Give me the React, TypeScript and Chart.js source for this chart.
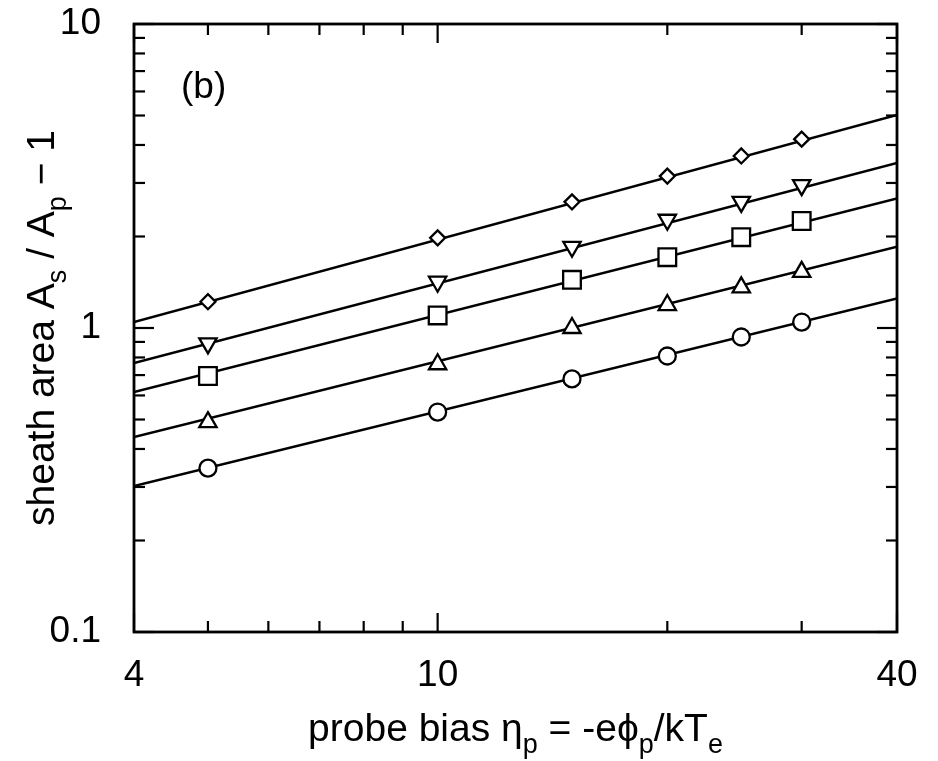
import React, { useEffect, useRef } from 'react';
import { Chart, registerables } from 'chart.js';

Chart.register(...registerables);

// ---- data ----
const xValues = [5, 10, 15, 20, 25, 30];
const diamondValues = [1.22, 1.98, 2.6, 3.16, 3.68, 4.18];
const downTriangleValues = [0.89, 1.42, 1.85, 2.27, 2.6, 2.95];
const squareValues = [0.695, 1.1, 1.44, 1.71, 1.99, 2.25];
const upTriangleValues = [0.49, 0.76, 1.0, 1.19, 1.36, 1.53];
const circleValues = [0.346, 0.529, 0.68, 0.809, 0.934, 1.046];

const fitX = [4, 40];
const diamondFit = [1.047, 5.02];
const downTriangleFit = [0.767, 3.49];
const squareFit = [0.616, 2.67];
const upTriangleFit = [0.438, 1.85];
const circleFit = [0.302, 1.25];

const xTickValues = [4, 5, 6, 7, 8, 9, 10, 20, 30, 40];
const xTickLabels = [4, 10, 40];
const yTickValues = [0.1, 0.2, 0.3, 0.4, 0.5, 0.6, 0.7, 0.8, 0.9, 1, 2, 3, 4, 5, 6, 7, 8, 9, 10];
const yTickLabels = [0.1, 1, 10];

const panelLabel = '(b)';
const xTitleParts: [string, boolean][] = [
  ['probe bias \u03B7', false],
  ['p', true],
  [' = -e\u03D5', false],
  ['p', true],
  ['/kT', false],
  ['e', true],
];
const yTitleParts: [string, boolean][] = [
  ['sheath area A', false],
  ['s', true],
  [' / A', false],
  ['p', true],
  [' \u2212 1', false],
];

const FONT = '"Liberation Sans", Arial, Helvetica, sans-serif';
const TICK_FS = 37;
const TITLE_FS = 39;

function pts(xs: number[], ys: number[]) {
  return xs.map((x, i) => ({ x, y: ys[i] }));
}

function drawRich(ctx: CanvasRenderingContext2D, parts: [string, boolean][], cx: number, by: number, size: number) {
  const widths = parts.map(([t, sub]) => {
    ctx.font = `${sub ? Math.round(size * 0.7) : size}px ${FONT}`;
    return ctx.measureText(t).width;
  });
  const total = widths.reduce((a, b) => a + b, 0);
  let x = cx - total / 2;
  ctx.textAlign = 'left';
  ctx.textBaseline = 'alphabetic';
  parts.forEach(([t, sub], i) => {
    ctx.font = `${sub ? Math.round(size * 0.7) : size}px ${FONT}`;
    ctx.fillText(t, x, sub ? by + size * 0.3 : by);
    x += widths[i];
  });
}

const framePlugin = {
  id: 'framePlugin',
  afterDatasetsDraw(chart: any) {
    const { ctx, chartArea: a, scales } = chart;
    const xs = scales.x;
    const ys = scales.y;
    ctx.save();
    ctx.strokeStyle = '#000';
    ctx.fillStyle = '#000';
    ctx.lineWidth = 2.2;
    const seg = (x1: number, y1: number, x2: number, y2: number) => {
      ctx.beginPath();
      ctx.moveTo(x1, y1);
      ctx.lineTo(x2, y2);
      ctx.stroke();
    };
    for (const v of xTickValues) {
      const px = xs.getPixelForValue(v);
      const len = xTickLabels.includes(v) ? 19 : 11;
      seg(px, a.bottom, px, a.bottom - len);
      seg(px, a.top, px, a.top + len);
    }
    for (const v of yTickValues) {
      const py = ys.getPixelForValue(v);
      const len = yTickLabels.includes(v) ? 20 : 11;
      seg(a.left, py, a.left + len, py);
      seg(a.right, py, a.right - len, py);
    }
    ctx.lineWidth = 2.8;
    ctx.strokeRect(a.left, a.top, a.right - a.left, a.bottom - a.top);

    // panel label
    ctx.font = `${TICK_FS}px ${FONT}`;
    ctx.textAlign = 'left';
    ctx.textBaseline = 'alphabetic';
    ctx.fillText(panelLabel, a.left + 47, a.top + 74);

    // x title
    drawRich(ctx, xTitleParts, (a.left + a.right) / 2, 741, TITLE_FS);

    // y title (rotated)
    ctx.save();
    ctx.translate(54, (a.top + a.bottom) / 2);
    ctx.rotate(-Math.PI / 2);
    drawRich(ctx, yTitleParts, 0, 0, TITLE_FS);
    ctx.restore();

    ctx.restore();
  },
};

function markerSet(label: string, ys: number[], style: string, radius: number, rotation = 0) {
  return {
    label,
    data: pts(xValues, ys),
    showLine: false,
    pointStyle: style,
    pointRadius: radius,
    pointRotation: rotation,
    pointBackgroundColor: '#fff',
    pointBorderColor: '#000',
    pointBorderWidth: 2.3,
    borderColor: '#000',
    backgroundColor: '#fff',
    order: 0,
  };
}

function fitSet(label: string, ys: number[]) {
  return {
    label,
    data: pts(fitX, ys),
    showLine: true,
    pointRadius: 0,
    borderColor: '#000',
    borderWidth: 2.5,
    fill: false,
    order: 1,
  };
}

export default function App() {
  const ref = useRef<HTMLCanvasElement>(null);
  useEffect(() => {
    if (!ref.current) return;
    const chart = new Chart(ref.current, {
      type: 'scatter',
      data: {
        datasets: [
          markerSet('diamond', diamondValues, 'rectRot', 7.5),
          markerSet('down triangle', downTriangleValues, 'triangle', 10, 180),
          markerSet('square', squareValues, 'rect', 12.5),
          markerSet('up triangle', upTriangleValues, 'triangle', 10),
          markerSet('circle', circleValues, 'circle', 8.5),
          fitSet('diamond fit', diamondFit),
          fitSet('down triangle fit', downTriangleFit),
          fitSet('square fit', squareFit),
          fitSet('up triangle fit', upTriangleFit),
          fitSet('circle fit', circleFit),
        ] as any,
      },
      options: {
        animation: false,
        responsive: false,
        layout: { padding: { left: 0, top: 24, right: 41, bottom: 0 } },
        plugins: { legend: { display: false }, tooltip: { enabled: false } },
        scales: {
          x: {
            type: 'logarithmic',
            min: 4,
            max: 40,
            grid: { display: false },
            border: { display: false },
            afterBuildTicks: (s: any) => {
              s.ticks = xTickValues.map((v) => ({ value: v }));
            },
            afterFit: (s: any) => {
              s.height = 129;
              s.paddingLeft = 0;
              s.paddingRight = 0;
              s.paddingTop = 0;
              s.paddingBottom = 0;
            },
            ticks: {
              autoSkip: false,
              maxRotation: 0,
              padding: 14,
              color: '#000',
              font: { family: FONT, size: TICK_FS },
              callback: (v: any) => (xTickLabels.includes(Number(v)) ? String(v) : ''),
            },
          },
          y: {
            type: 'logarithmic',
            min: 0.1,
            max: 10,
            grid: { display: false },
            border: { display: false },
            afterBuildTicks: (s: any) => {
              s.ticks = yTickValues.map((v) => ({ value: v }));
            },
            afterFit: (s: any) => {
              s.width = 134;
              s.paddingLeft = 0;
              s.paddingRight = 0;
              s.paddingTop = 0;
              s.paddingBottom = 0;
            },
            ticks: {
              autoSkip: false,
              padding: 25,
              color: '#000',
              font: { family: FONT, size: TICK_FS },
              callback: (v: any) => (yTickLabels.includes(Number(v)) ? String(v) : ''),
            },
          },
        },
      } as any,
      plugins: [framePlugin],
    });
    return () => chart.destroy();
  }, []);
  return (
    <div style={{ position: 'absolute', left: 0, top: 0, width: 938, height: 761, background: '#fff' }}>
      <canvas ref={ref} width={938} height={761} />
    </div>
  );
}
